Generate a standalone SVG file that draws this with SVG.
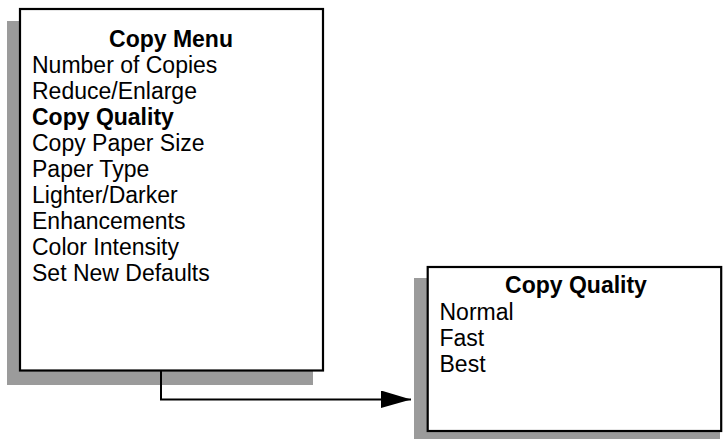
<svg xmlns="http://www.w3.org/2000/svg" width="723" height="439" viewBox="0 0 723 439">
<defs>
<style>
.shadow{fill:#9b9b9b;stroke:none}
.box{fill:#ffffff;stroke:#000000;stroke-width:2.2}
.t{font-family:"Liberation Sans",Arial,sans-serif;font-size:23px;fill:#000000}
.b{font-weight:bold}
.conn{fill:none;stroke:#000000;stroke-width:2}
</style>
<marker id="arrow" markerUnits="userSpaceOnUse" markerWidth="32" markerHeight="20" refX="30" refY="9" orient="auto">
<polygon points="0,0 30,9 0,17.5" fill="#000000"/>
</marker>
</defs>
<g id="copy-menu">
<rect class="shadow" x="7" y="21" width="306" height="364"/>
<rect class="box" x="20" y="9" width="303" height="361.5"/>
<text class="t b" x="171" y="47" text-anchor="middle">Copy Menu</text>
<text class="t" x="32" y="73">Number of Copies</text>
<text class="t" x="32" y="99">Reduce/Enlarge</text>
<text class="t b" x="32" y="125">Copy Quality</text>
<text class="t" x="32" y="151">Copy Paper Size</text>
<text class="t" x="32" y="177">Paper Type</text>
<text class="t" x="32" y="203">Lighter/Darker</text>
<text class="t" x="32" y="229">Enhancements</text>
<text class="t" x="32" y="255">Color Intensity</text>
<text class="t" x="32" y="281">Set New Defaults</text>
</g>
<g id="copy-quality">
<rect class="shadow" x="414" y="278" width="306" height="161"/>
<rect class="box" x="427.7" y="267" width="293.5" height="164"/>
<text class="t b" x="576" y="293" text-anchor="middle">Copy Quality</text>
<text class="t" x="439.5" y="320">Normal</text>
<text class="t" x="439.5" y="346">Fast</text>
<text class="t" x="439.5" y="372">Best</text>
</g>
<g id="connectors">
<path class="conn" d="M161 370.5 V399.5 H411" marker-end="url(#arrow)"/>
</g>
</svg>
